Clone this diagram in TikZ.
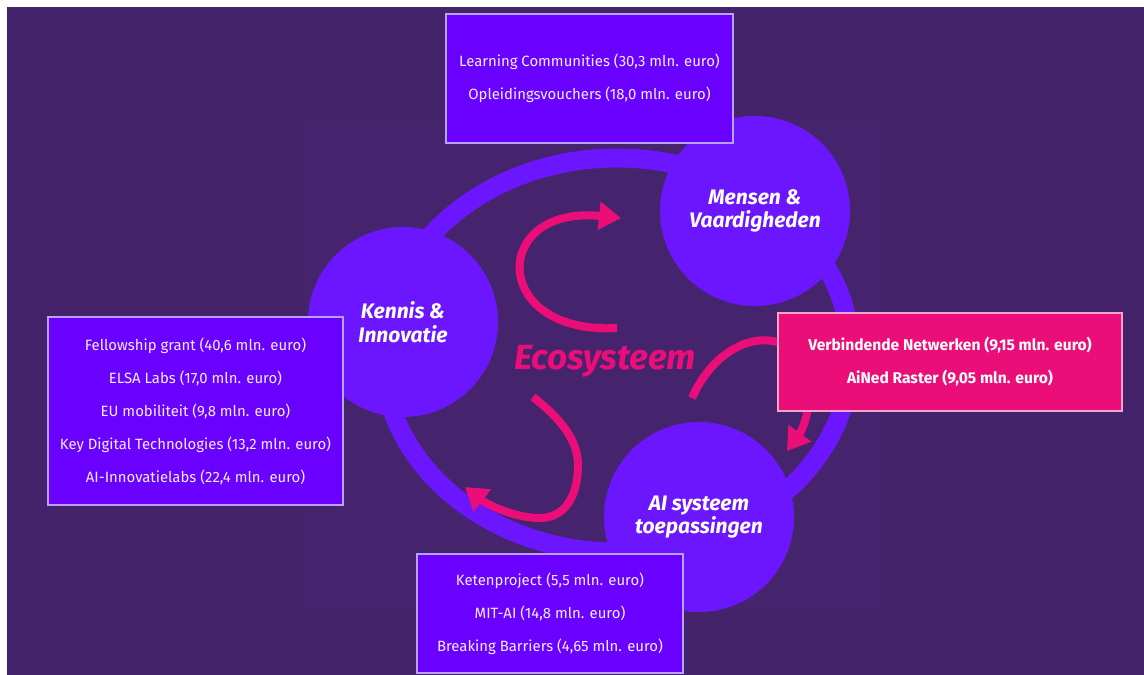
\documentclass[tikz,border=0pt]{standalone}
\usepackage{fontspec}
\setmainfont{Fira Sans}
\usetikzlibrary{arrows.meta}
\definecolor{bgpurple}{HTML}{45236B}
\definecolor{bginner}{HTML}{46246D}
\definecolor{ringviolet}{HTML}{6B16FF}
\definecolor{boxviolet}{HTML}{6A00FF}
\definecolor{boxline}{HTML}{B9A2FF}
\definecolor{hotpink}{HTML}{EC0E78}
\definecolor{pinkline}{HTML}{F7A3CB}
\definecolor{boxtext}{HTML}{F2EDFF}
\tikzset{
  hub/.style={circle, fill=ringviolet, minimum size=190pt, inner sep=0pt,
    text=white, align=center, font=\fontsize{21}{23.5}\selectfont\bfseries\itshape},
  infobox/.style={rectangle, fill=boxviolet, draw=boxline, line width=1.3pt,
    inner sep=0pt, text=boxtext, align=center, font=\fontsize{14.9}{33}\selectfont},
  pinkbox/.style={rectangle, fill=hotpink, draw=pinkline, line width=1.3pt,
    inner sep=0pt, text=white, align=center, font=\fontsize{15.6}{33}\selectfont\bfseries},
  pinkarrow/.style={draw=hotpink, line width=8pt, -{Triangle[length=22pt,width=27pt]}},
}
\begin{document}
\begin{tikzpicture}[x=1pt,y=-1pt]
\useasboundingbox (0,0) rectangle (1144,675);
\fill[white] (0,0) rectangle (1144,675);
\fill[bgpurple] (7,7) rectangle (1144,675);
\fill[bginner] (305,120) rectangle (880,612);
% ring
\draw[ringviolet, line width=19pt] (617,355) ellipse [x radius=234, y radius=197];
% hubs
\node[hub] (kennis) at (403,322) {Kennis \&\\Innovatie};
\node[hub] (mensen) at (755,211) {Mensen \&\\Vaardigheden};
\node[hub] (ai) at (699,517) {AI systeem\\toepassingen};
% pink arrows
\coordinate (a1s) at (617,328);
\coordinate (a1e) at (621,218);
\draw[pinkarrow] (a1s) .. controls (490,335) and (490,205) .. (a1e);
\coordinate (a2s) at (533,397);
\coordinate (a2m) at (578,465);
\coordinate (a2b) at (540,518);
\coordinate (a2e) at (465,487);
\draw[pinkarrow] (a2s) .. controls (560,418) and (578,440) .. (a2m)
  .. controls (578,500) and (562,518) .. (a2b)
  .. controls (515,518) and (488,505) .. (a2e);
\coordinate (a3s) at (692,398);
\coordinate (a3m) at (805,360);
\coordinate (a3e) at (787,451);
\draw[pinkarrow] (a3s) .. controls (715,345) and (770,320) .. (a3m)
  .. controls (815,390) and (806,425) .. (a3e);
% centre label
\node[text=hotpink, font=\fontsize{35}{40}\selectfont\bfseries\itshape] (eco) at (605,361) {Ecosysteem};
% boxes
\node[infobox, minimum width=287pt, minimum height=129pt] (top) at (589.5,78.5)
  {Learning Communities (30,3 mln. euro)\\Opleidingsvouchers (18,0 mln. euro)};
\node[infobox, minimum width=295pt, minimum height=188pt] (left) at (195.5,411)
  {Fellowship grant (40,6 mln. euro)\\ELSA Labs (17,0 mln. euro)\\EU mobiliteit (9,8 mln. euro)\\Key Digital Technologies (13,2 mln. euro)\\AI-Innovatielabs (22,4 mln. euro)};
\node[pinkbox, minimum width=344pt, minimum height=98pt] (right) at (950,362)
  {Verbindende Netwerken (9,15 mln. euro)\\AiNed Raster (9,05 mln. euro)};
\node[infobox, minimum width=266pt, minimum height=119pt] (bottom) at (550,613.5)
  {Ketenproject (5,5 mln. euro)\\MIT-AI (14,8 mln. euro)\\Breaking Barriers (4,65 mln. euro)};
\end{tikzpicture}
\end{document}
